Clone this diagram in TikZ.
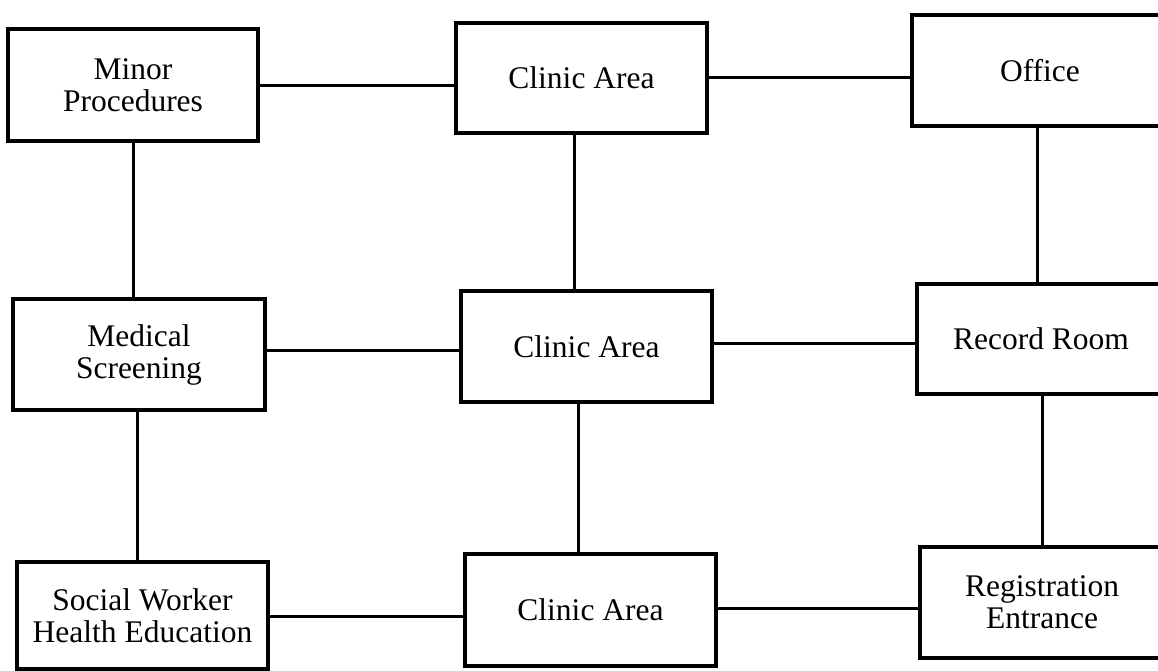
\documentclass[tikz,border=0pt]{standalone}
\usepackage{fontspec}
\setmainfont{Liberation Serif}
\begin{document}
\begin{tikzpicture}[x=1pt,y=-1pt,
  room/.style={draw, line width=3.4pt, inner sep=0pt, align=center,
    font=\fontsize{31.5}{32}\selectfont, minimum height=111pt},
  link/.style={line width=3pt}]
\useasboundingbox (0,0) rectangle (1158,671);

% left column
\node[room, minimum width=250pt, minimum height=112pt] (mp) at (133,85) {Minor\\Procedures};
\node[room, minimum width=252pt] (ms) at (139,354.5) {Medical\\Screening};
\node[room, minimum width=251pt, minimum height=107pt] (sw) at (142.5,615.5) {Social Worker\\Health Education};

% middle column
\node[room, minimum width=251pt, minimum height=110pt] (c1) at (581.5,78) {Clinic Area};
\node[room, minimum width=251pt] (c2) at (586.5,346.5) {Clinic Area};
\node[room, minimum width=251pt, minimum height=112pt] (c3) at (590.5,610) {Clinic Area};

% right column (runs past the right edge)
\node[room, minimum width=256pt] (of) at (1040,70.5) {Office};
\node[room, minimum width=248pt, minimum height=110pt] (rr) at (1041,339) {Record Room};
\node[room, minimum width=244pt] (re) at (1042,602.5) {Registration\\Entrance};

% horizontal links
\draw[link] ([yshift=-0.5pt]mp.east) -- ([yshift=-0.5pt]mp.east -| c1.west);
\draw[link] (c1.east) -- (c1.east -| of.west);
\draw[link] ([yshift=4pt]ms.east) -- ([yshift=4pt]ms.east -| c2.west);
\draw[link] ([yshift=3pt]c2.east) -- ([yshift=3pt]c2.east -| rr.west);
\draw[link] ([yshift=-1pt]sw.east) -- ([yshift=-1pt]sw.east -| c3.west);
\draw[link] ([yshift=2pt]c3.east) -- ([yshift=2pt]c3.east -| re.west);

% vertical links
\draw[link] (mp.south) -- (mp.south |- ms.north);
\draw[link] ([xshift=-2pt]ms.south) -- ([xshift=-2pt]ms.south |- sw.north);
\draw[link] ([xshift=-7.5pt]c1.south) -- ([xshift=-7.5pt]c1.south |- c2.north);
\draw[link] ([xshift=-8pt]c2.south) -- ([xshift=-8pt]c2.south |- c3.north);
\draw[link] ([xshift=-3pt]of.south) -- ([xshift=-3pt]of.south |- rr.north);
\draw[link] ([xshift=1pt]rr.south) -- ([xshift=1pt]rr.south |- re.north);
\end{tikzpicture}
\end{document}
